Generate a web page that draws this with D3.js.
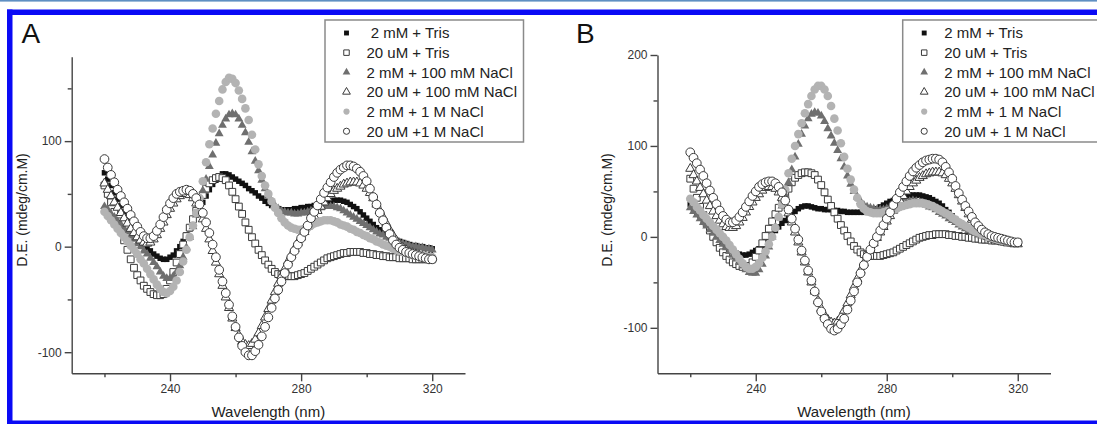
<!DOCTYPE html>
<html>
<head>
<meta charset="utf-8">
<script src="https://cdn.jsdelivr.net/npm/d3@7"></script>
<style>
  body { margin: 0; background: #fff; }
  svg { display: block; font-family: "Liberation Sans", Arial, sans-serif; }
</style>
</head>
<body>
<svg id="chart" width="1097" height="424"></svg>
<script>
// wavelength grid (nm), one reading per nm
const wavelength = d3.range(220, 321);

const legendA = ['\u00A02 mM + Tris', '20 uM + Tris', '2 mM + 100 mM NaCl', '20 uM + 100 mM NaCl', '2 mM + 1 M NaCl', '20 uM +1 M NaCl'];
const legendB = ['2 mM + Tris', '20 uM + Tris', '2 mM + 100 mM NaCl', '20 uM + 100 mM NaCl', '2 mM + 1 M NaCl', '20 uM + 1 M NaCl'];

const xTicks = [240, 280, 320];
const xMinor = [220, 260, 300];
const yTicksA = [-100, 0, 100];
const yMinorA = [-50, 50, 150];
const yTicksB = [-100, 0, 100, 200];
const yMinorB = [-50, 50, 150];

// Panel A
const a_2mM_Tris = [70,64,58,51,45,39,33,27,22,17,12,7,3,-1,-4,-7,-9,-11,-12,-12,-10,-8,-4,0,5,11,17,24,30,36,42,48,54,59,63,67,69,69,68,66,64,62,60,58,55,53,51,48,46,43,41,39,37,36,35,35,35,35,36,36,37,37,38,38,39,40,41,42,43,43,44,44,44,43,42,40,38,36,33,30,27,24,21,18,16,14,12,10,8,6,5,4,3,2,1,1,0,0,-1,-1,-2];
const a_20uM_Tris = [58,50,42,33,24,15,6,-3,-12,-20,-27,-32,-37,-40,-43,-45,-46,-46,-45,-40,-32,-24,-15,-7,2,10,18,26,34,42,49,55,60,63,65,66,65,63,58,52,45,38,31,23,16,9,3,-3,-8,-13,-17,-21,-24,-26,-27,-28,-28,-28,-28,-27,-26,-25,-23,-21,-19,-17,-15,-13,-11,-10,-9,-8,-7,-6,-6,-5,-5,-5,-5,-6,-6,-7,-7,-8,-8,-9,-9,-10,-10,-10,-11,-11,-11,-11,-12,-12,-12,-12,-12,-12,-12];
const a_2mM_100mM = [38,35,31,28,24,21,17,14,10,7,3,0,-4,-7,-11,-15,-19,-24,-28,-30,-30,-28,-24,-18,-10,-1,9,19,30,41,53,64,76,87,98,107,115,121,125,126,125,121,115,108,99,90,81,72,63,55,48,43,39,36,34,33,32,32,31,31,32,32,33,34,35,36,37,38,38,38,38,37,36,34,32,30,28,26,24,22,20,18,16,14,12,11,9,8,6,5,4,3,2,1,0,0,-1,-1,-2,-2,-3];
const a_20uM_100mM = [60,54,48,42,37,32,27,22,17,13,9,6,4,3,4,7,11,17,23,30,36,41,45,48,50,50,49,46,41,34,26,17,7,-4,-15,-26,-37,-48,-58,-68,-77,-84,-90,-93,-94,-92,-88,-82,-75,-67,-59,-51,-43,-35,-28,-21,-14,-8,-2,4,9,14,19,24,29,34,38,42,46,50,53,55,57,59,60,61,61,61,60,58,55,51,46,40,34,28,22,16,11,6,2,-1,-3,-5,-6,-7,-8,-9,-9,-10,-10];
const a_2mM_1M = [33,29,25,21,17,13,9,5,1,-3,-7,-12,-16,-21,-26,-31,-36,-40,-43,-44,-42,-38,-32,-24,-14,-3,9,20,32,46,62,80,97,112,126,138,149,156,160,159,155,148,140,131,120,106,92,78,67,58,50,43,37,32,27,23,20,18,17,16,16,17,18,20,22,23,24,25,25,25,24,23,21,20,19,17,16,14,13,11,10,8,7,5,4,2,1,0,-2,-3,-4,-5,-6,-7,-8,-8,-8,-9,-9,-10,-10];
const a_20uM_1M = [83,75,68,61,54,48,42,36,30,24,19,14,10,8,8,10,15,21,28,35,41,46,50,52,53,54,53,50,46,40,32,23,13,2,-10,-22,-33,-44,-55,-66,-76,-86,-94,-100,-103,-103,-99,-93,-85,-76,-67,-58,-49,-41,-33,-25,-17,-10,-4,2,8,14,20,27,33,39,45,51,56,61,66,70,73,75,77,77,76,74,71,67,62,55,47,40,32,25,18,12,6,2,-1,-3,-5,-6,-7,-8,-9,-10,-11,-12,-12];

// Panel B
const b_2mM_Tris = [36,31,27,23,18,13,8,4,1,-2,-5,-9,-12,-15,-18,-19,-20,-20,-19,-17,-15,-13,-10,-6,-2,2,7,11,15,18,22,25,28,31,33,34,34,33,32,31,31,30,30,30,29,29,28,28,27,27,27,27,27,27,27,28,29,31,33,35,37,39,40,42,43,44,45,46,46,46,46,45,44,43,41,39,37,34,30,27,23,19,16,13,10,7,5,3,1,0,-1,-2,-3,-4,-4,-5,-5,-6,-6,-7,-7];
const b_20uM_Tris = [64,53,43,33,24,15,7,0,-6,-12,-17,-21,-25,-28,-30,-32,-33,-33,-32,-28,-22,-15,-7,1,9,17,25,32,39,46,53,60,65,68,70,71,71,70,68,63,57,49,41,34,27,20,13,7,1,-5,-10,-14,-17,-19,-20,-21,-21,-21,-21,-20,-19,-18,-17,-15,-13,-11,-9,-7,-5,-3,-1,0,1,2,2,3,3,3,3,2,2,1,1,0,0,-1,-1,-2,-2,-3,-3,-3,-4,-4,-4,-5,-5,-5,-6,-6,-6];
const b_2mM_100mM = [32,28,24,20,16,12,8,4,0,-4,-8,-12,-16,-20,-24,-28,-32,-36,-39,-40,-40,-36,-30,-21,-11,0,11,22,34,46,60,74,88,102,113,122,130,135,137,136,133,127,119,111,103,95,86,77,67,58,50,44,39,35,33,32,31,30,30,30,31,32,33,34,36,37,38,39,40,39,38,37,35,33,32,30,27,25,23,20,18,16,13,11,9,7,5,4,2,1,0,-1,-2,-3,-4,-5,-6,-6,-7,-7,-8];
const b_20uM_100mM = [75,68,61,54,47,40,34,28,23,18,14,11,10,10,12,16,21,27,33,38,43,47,51,54,55,55,53,49,43,35,26,16,5,-6,-17,-28,-39,-50,-60,-70,-79,-86,-91,-94,-95,-93,-88,-81,-73,-64,-55,-46,-37,-29,-21,-14,-7,-1,5,11,17,23,29,35,40,45,50,55,59,62,65,67,69,70,71,71,71,70,68,64,59,53,46,39,32,25,19,13,9,5,2,0,-2,-3,-4,-5,-6,-7,-7,-8,-8];
const b_2mM_1M = [42,38,33,29,24,20,16,12,8,4,0,-4,-9,-14,-19,-24,-29,-33,-35,-35,-33,-29,-23,-16,-8,0,10,22,36,52,70,86,100,113,125,136,146,155,162,166,166,162,155,144,130,117,103,88,75,63,52,43,36,31,28,27,26,26,26,27,28,29,30,31,33,34,35,36,37,37,37,37,36,35,34,32,30,28,26,24,21,19,16,14,12,10,8,6,5,3,2,0,-1,-2,-3,-4,-4,-5,-5,-6,-6];
const b_20uM_1M = [93,87,81,74,67,59,51,43,36,29,23,19,16,16,18,22,27,33,39,45,50,55,58,60,61,61,59,55,49,40,30,20,9,-3,-15,-26,-37,-48,-60,-72,-82,-90,-96,-101,-103,-101,-96,-90,-80,-70,-60,-50,-40,-31,-22,-14,-7,0,7,13,20,27,35,42,49,55,61,67,72,76,79,82,84,85,86,86,85,82,77,71,64,56,48,41,34,28,22,16,12,8,5,3,1,0,-1,-2,-3,-4,-5,-6,-6];

// marker styles, in legend order
const styles = [
  { shape: d3.symbolSquare, size: 30, fill: '#111', stroke: 'none', lsize: 24 },
  { shape: d3.symbolSquare, size: 46, fill: '#fff', stroke: '#3a3a3a', lsize: 30 },
  { shape: d3.symbolTriangle, size: 34, fill: '#6f6f6f', stroke: 'none', lsize: 26 },
  { shape: d3.symbolTriangle, size: 36, fill: '#fff', stroke: '#3a3a3a', lsize: 26 },
  { shape: d3.symbolCircle, size: 58, fill: '#b3b3b3', stroke: 'none', lsize: 30 },
  { shape: d3.symbolCircle, size: 60, fill: '#fff', stroke: '#3a3a3a', lsize: 30 }
];

const svg = d3.select('#chart');

// frame
svg.append('rect').attr('x', 0).attr('y', 0).attr('width', 1097).attr('height', 1.6).attr('fill', '#5f8fc2');
svg.append('rect').attr('x', 7).attr('y', 9.5).attr('width', 1090).attr('height', 5.5).attr('fill', '#0a0af5');
svg.append('rect').attr('x', 7).attr('y', 9.5).attr('width', 5.5).attr('height', 415).attr('fill', '#0a0af5');
svg.append('rect').attr('x', 7).attr('y', 420.5).attr('width', 1090).attr('height', 4).attr('fill', '#0a0af5');

// plain hyphen for negative labels, like the original
const fmt = d => String(d);

function panel(p) {
  const x = d3.scaleLinear().domain([210, 330]).range(p.xr);
  const y = d3.scaleLinear().domain(p.yd).range([373.3, p.ytop]);
  const g = svg.append('g');

  // axes
  g.append('g').attr('transform', 'translate(0,373.3)')
    .call(d3.axisBottom(x).tickValues(xTicks).tickFormat(fmt).tickSize(8).tickSizeOuter(0).tickPadding(3));
  g.append('g').attr('transform', 'translate(0,373.3)')
    .call(d3.axisBottom(x).tickValues(xMinor).tickSize(4).tickFormat('').tickSizeOuter(0))
    .select('.domain').remove();
  g.append('g').attr('transform', 'translate(' + p.xr[0] + ',0)')
    .call(d3.axisLeft(y).tickValues(p.yt).tickFormat(fmt).tickSize(7).tickSizeOuter(0).tickPadding(3));
  g.append('g').attr('transform', 'translate(' + p.xr[0] + ',0)')
    .call(d3.axisLeft(y).tickValues(p.ym).tickSize(4).tickFormat('').tickSizeOuter(0))
    .select('.domain').remove();

  g.selectAll('.domain, .tick line').attr('stroke', '#444').attr('stroke-width', 1.4);
  g.selectAll('.tick text').attr('font-size', 12).attr('fill', '#333')
    .attr('font-family', '"Liberation Sans", Arial, sans-serif');

  // titles
  g.append('text').attr('x', (p.xr[0] + p.xr[1]) / 2).attr('y', 417)
    .attr('text-anchor', 'middle').attr('font-size', 15).attr('fill', '#222')
    .text('Wavelength (nm)');
  g.append('text').attr('transform', 'translate(' + p.ytx + ',210) rotate(-90)')
    .attr('text-anchor', 'middle').attr('dy', '0.35em').attr('font-size', 14).attr('fill', '#222')
    .text('D.E. (mdeg/cm.M)');
  g.append('text').attr('x', p.lx).attr('y', 42.5).attr('font-size', 28).attr('fill', '#111')
    .text(p.label);

  // points
  p.series.forEach((vals, i) => {
    const s = styles[i];
    const sym = d3.symbol().type(s.shape).size(s.size);
    g.append('g').selectAll('path').data(vals).join('path')
      .attr('transform', (d, j) => 'translate(' + x(wavelength[j]) + ',' + y(d) + ')')
      .attr('d', sym)
      .attr('fill', s.fill)
      .attr('stroke', s.stroke)
      .attr('stroke-width', 1);
  });

  // legend
  const leg = g.append('g');
  leg.append('rect').attr('x', p.legX).attr('y', 20).attr('width', 198.5).attr('height', 122)
    .attr('fill', '#fff').attr('stroke', '#8a8a8a').attr('stroke-width', 1.5);
  p.names.forEach((name, i) => {
    const s = styles[i];
    const cy = 33 + i * 19.65;
    leg.append('path').attr('transform', 'translate(' + (p.legX + 21.5) + ',' + cy + ')')
      .attr('d', d3.symbol().type(s.shape).size(s.lsize))
      .attr('fill', s.fill).attr('stroke', s.stroke).attr('stroke-width', 1);
    leg.append('text').attr('x', p.legX + 41.5).attr('y', cy + 5.3)
      .attr('font-size', 15).attr('fill', '#222').text(name);
  });
}

panel({
  label: 'A', lx: 21.5, xr: [71.7, 465], yd: [-120, 180], ytop: 56.7,
  yt: yTicksA, ym: yMinorA, ytx: 21.7, legX: 325, names: legendA,
  series: [a_2mM_Tris, a_20uM_Tris, a_2mM_100mM, a_20uM_100mM, a_2mM_1M, a_20uM_1M]
});

panel({
  label: 'B', lx: 576, xr: [657.5, 1050.5], yd: [-150, 200], ytop: 55,
  yt: yTicksB, ym: yMinorB, ytx: 606.7, legX: 902.7, names: legendB,
  series: [b_2mM_Tris, b_20uM_Tris, b_2mM_100mM, b_20uM_100mM, b_2mM_1M, b_20uM_1M]
});
</script>
</body>
</html>
